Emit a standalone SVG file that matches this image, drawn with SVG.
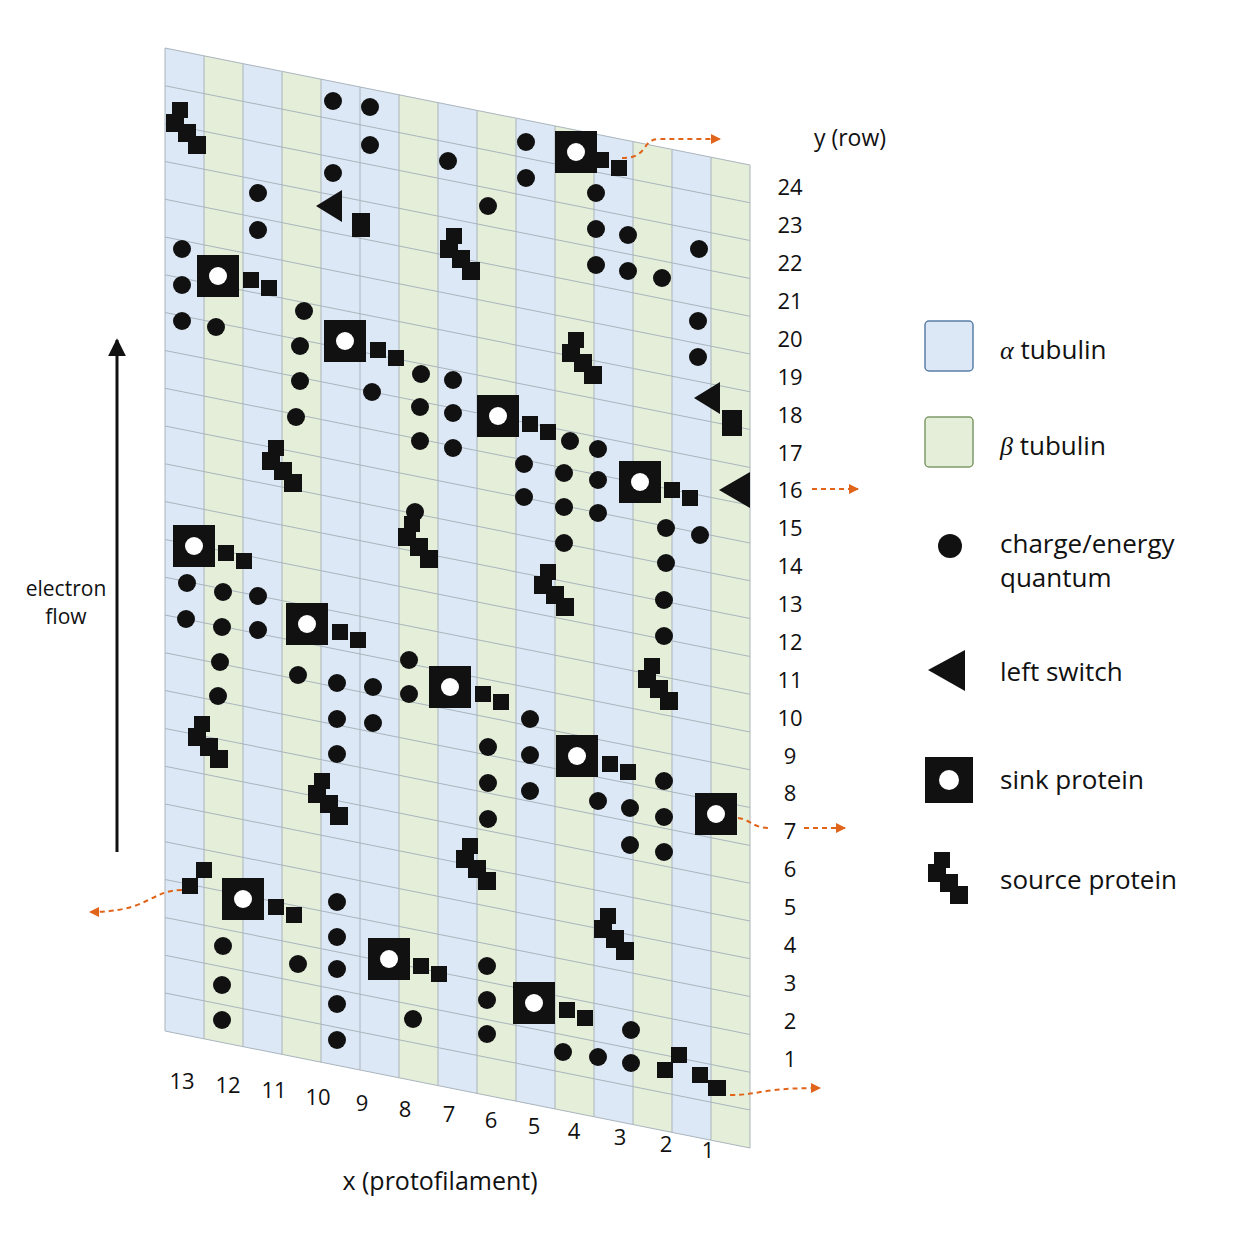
<svg xmlns="http://www.w3.org/2000/svg" xmlns:xlink="http://www.w3.org/1999/xlink" width="1254" height="1254" viewBox="0 0 1254 1254">
<style>
.t{font-family:"Open Sans","DejaVu Sans",sans-serif;fill:#111}
.n{font-size:22px;text-anchor:middle}
.lg{font-size:26px}
.a{fill:#dce8f6}.b{fill:#e4eed9}
.cell{fill:none;stroke:#a9b4bc;stroke-width:1}
.d{fill:#111}
.or{fill:none;stroke:#e0641a;stroke-width:2;stroke-dasharray:5 4}
</style>
<defs>
<marker id="oa" viewBox="0 0 10 10" refX="9" refY="5" markerWidth="5" markerHeight="5" orient="auto"><path d="M0,0L10,5L0,10z" fill="#e0641a"/></marker>
<marker id="ka" viewBox="0 0 10 10" refX="9" refY="5" markerWidth="6" markerHeight="6" orient="auto"><path d="M0,0L10,5L0,10z" fill="#111"/></marker>
<g id="sink"><rect x="-21" y="-21" width="42" height="42" fill="#111"/><circle r="9" fill="#fff"/></g>
<g id="tail"><rect x="0" y="-8" width="16" height="16" fill="#111"/><rect x="18" y="0" width="16" height="16" fill="#111"/></g>
<g id="src" fill="#111"><rect x="6" y="0" width="16" height="16"/><rect x="0" y="12" width="18" height="18"/><rect x="12" y="22" width="18" height="18"/><rect x="22" y="34" width="18" height="18"/></g>
<circle id="dot" r="9" fill="#111"/>
</defs>
<rect width="1254" height="1254" fill="#fff"/>
<g id="grid" transform="matrix(1 0.2 0 1 0 -66)">
<rect x="165" y="81" width="39" height="983" class="a"/><rect x="204" y="81" width="39" height="983" class="b"/>
<rect x="243" y="81" width="39" height="983" class="a"/><rect x="282" y="81" width="39" height="983" class="b"/>
<rect x="321" y="81" width="39" height="983" class="a"/><rect x="360" y="81" width="39" height="983" class="a"/>
<rect x="399" y="81" width="39" height="983" class="b"/><rect x="438" y="81" width="39" height="983" class="a"/>
<rect x="477" y="81" width="39" height="983" class="b"/><rect x="516" y="81" width="39" height="983" class="a"/>
<rect x="555" y="81" width="39" height="983" class="b"/><rect x="594" y="81" width="39" height="983" class="a"/>
<rect x="633" y="81" width="39" height="983" class="b"/><rect x="672" y="81" width="39" height="983" class="a"/>
<rect x="711" y="81" width="39" height="983" class="b"/>
<path class="cell" d="M165,81V1064M204,81V1064M243,81V1064M282,81V1064M321,81V1064M360,81V1064M399,81V1064M438,81V1064M477,81V1064M516,81V1064M555,81V1064M594,81V1064M633,81V1064M672,81V1064M711,81V1064M750,81V1064
M165,81H750M165,118.8H750M165,156.6H750M165,194.4H750M165,232.2H750M165,270H750M165,307.8H750M165,345.6H750M165,383.4H750M165,421.2H750M165,459H750M165,496.8H750M165,534.6H750M165,572.4H750M165,610.2H750M165,648H750M165,685.8H750M165,723.6H750M165,761.4H750M165,799.2H750M165,837H750M165,874.8H750M165,912.6H750M165,950.4H750M165,988.2H750M165,1026H750M165,1064H750"/>
</g>
<g id="dots">
<use href="#dot" x="333" y="101"/><use href="#dot" x="370" y="107"/><use href="#dot" x="370" y="145"/><use href="#dot" x="333" y="173"/><use href="#dot" x="448" y="161"/><use href="#dot" x="526" y="142"/><use href="#dot" x="526" y="178"/><use href="#dot" x="488" y="206"/><use href="#dot" x="258" y="193"/><use href="#dot" x="258" y="230"/><use href="#dot" x="182" y="249"/><use href="#dot" x="182" y="285"/><use href="#dot" x="182" y="321"/><use href="#dot" x="216" y="327"/><use href="#dot" x="304" y="311"/><use href="#dot" x="300" y="346"/><use href="#dot" x="300" y="381"/><use href="#dot" x="296" y="417"/><use href="#dot" x="372" y="392"/><use href="#dot" x="421" y="374"/><use href="#dot" x="453" y="380"/><use href="#dot" x="420" y="407"/><use href="#dot" x="453" y="413"/><use href="#dot" x="420" y="441"/><use href="#dot" x="453" y="448"/><use href="#dot" x="596" y="193"/><use href="#dot" x="596" y="229"/><use href="#dot" x="628" y="235"/><use href="#dot" x="596" y="265"/><use href="#dot" x="628" y="271"/><use href="#dot" x="662" y="278"/><use href="#dot" x="699" y="249"/><use href="#dot" x="698" y="321"/><use href="#dot" x="698" y="357"/><use href="#dot" x="570" y="441"/><use href="#dot" x="598" y="449"/><use href="#dot" x="524" y="464"/><use href="#dot" x="564" y="473"/><use href="#dot" x="598" y="480"/><use href="#dot" x="524" y="497"/><use href="#dot" x="564" y="507"/><use href="#dot" x="598" y="513"/><use href="#dot" x="415" y="512"/><use href="#dot" x="564" y="543"/><use href="#dot" x="666" y="528"/><use href="#dot" x="700" y="535"/><use href="#dot" x="666" y="563"/><use href="#dot" x="664" y="600"/><use href="#dot" x="664" y="636"/><use href="#dot" x="187" y="583"/><use href="#dot" x="223" y="592"/><use href="#dot" x="258" y="596"/><use href="#dot" x="186" y="619"/><use href="#dot" x="222" y="627"/><use href="#dot" x="258" y="630"/><use href="#dot" x="220" y="662"/><use href="#dot" x="218" y="696"/><use href="#dot" x="298" y="675"/><use href="#dot" x="337" y="683"/><use href="#dot" x="373" y="687"/><use href="#dot" x="409" y="660"/><use href="#dot" x="409" y="694"/><use href="#dot" x="337" y="719"/><use href="#dot" x="373" y="723"/><use href="#dot" x="337" y="754"/><use href="#dot" x="530" y="719"/><use href="#dot" x="488" y="747"/><use href="#dot" x="530" y="755"/><use href="#dot" x="488" y="783"/><use href="#dot" x="530" y="791"/><use href="#dot" x="488" y="819"/><use href="#dot" x="598" y="801"/><use href="#dot" x="630" y="808"/><use href="#dot" x="664" y="781"/><use href="#dot" x="664" y="817"/><use href="#dot" x="630" y="845"/><use href="#dot" x="664" y="852"/><use href="#dot" x="337" y="902"/><use href="#dot" x="223" y="946"/><use href="#dot" x="298" y="964"/><use href="#dot" x="337" y="937"/><use href="#dot" x="337" y="969"/><use href="#dot" x="222" y="985"/><use href="#dot" x="337" y="1004"/><use href="#dot" x="222" y="1020"/><use href="#dot" x="337" y="1040"/><use href="#dot" x="413" y="1019"/><use href="#dot" x="487" y="966"/><use href="#dot" x="487" y="1000"/><use href="#dot" x="487" y="1034"/><use href="#dot" x="563" y="1052"/><use href="#dot" x="598" y="1057"/><use href="#dot" x="631" y="1030"/><use href="#dot" x="631" y="1063"/>
</g>
<g id="sinks">
<use href="#sink" x="576" y="152"/><use href="#tail" x="593" y="160"/>
<use href="#sink" x="218" y="276"/><use href="#tail" x="243" y="280"/>
<use href="#sink" x="345" y="341"/><use href="#tail" x="370" y="350"/>
<use href="#sink" x="498" y="416"/><use href="#tail" x="522" y="424"/>
<use href="#sink" x="640" y="482"/><use href="#tail" x="664" y="490"/>
<use href="#sink" x="194" y="546"/><use href="#tail" x="218" y="553"/>
<use href="#sink" x="307" y="624"/><use href="#tail" x="332" y="632"/>
<use href="#sink" x="450" y="687"/><use href="#tail" x="475" y="694"/>
<use href="#sink" x="577" y="756"/><use href="#tail" x="602" y="764"/>
<use href="#sink" x="716" y="814"/>
<use href="#sink" x="243" y="899"/><use href="#tail" x="268" y="907"/>
<use href="#sink" x="389" y="959"/><use href="#tail" x="413" y="966"/>
<use href="#sink" x="534" y="1003"/><use href="#tail" x="559" y="1010"/>
</g>
<g id="sources">
<use href="#src" x="166" y="102"/><use href="#src" x="440" y="228"/><use href="#src" x="562" y="332"/><use href="#src" x="262" y="440"/><use href="#src" x="398" y="516"/><use href="#src" x="534" y="564"/><use href="#src" x="638" y="658"/><use href="#src" x="188" y="716"/><use href="#src" x="308" y="773"/><use href="#src" x="456" y="838"/><use href="#src" x="594" y="908"/>
<rect x="182" y="878" width="16" height="16" fill="#111"/><rect x="196" y="862" width="16" height="16" fill="#111"/>
<rect x="657" y="1062" width="16" height="16" fill="#111"/><rect x="671" y="1047" width="16" height="16" fill="#111"/>
<rect x="692" y="1067" width="16" height="16" fill="#111"/><rect x="708" y="1080" width="18" height="16" fill="#111"/>
</g>
<g id="switches" fill="#111">
<path d="M316,206L342,190V222z"/><rect x="352" y="213" width="18" height="24"/>
<path d="M694,398L720,382V414z"/><rect x="722" y="410" width="20" height="26"/>
<path d="M719,490L750,472V508z"/>
</g>
<g id="connectors">
<path class="or" marker-end="url(#oa)" d="M622,158C650,158 640,139 660,139H720"/>
<path class="or" marker-end="url(#oa)" d="M812,489H858"/>
<path class="or" d="M738,818C752,820 752,828 770,828"/>
<path class="or" marker-end="url(#oa)" d="M804,828H845"/>
<path class="or" marker-end="url(#oa)" d="M730,1095C760,1095 760,1088 820,1088"/>
<path class="or" marker-end="url(#oa)" d="M182,890C150,890 150,912 90,912"/>
<path d="M117,852V340" stroke="#111" stroke-width="3" marker-end="url(#ka)"/>
</g>
<g id="labels">
<text class="t" x="850" y="146" font-size="23" text-anchor="middle">y (row)</text>
<g class="t n">
<text x="790" y="195">24</text><text x="790" y="233">23</text><text x="790" y="271">22</text><text x="790" y="309">21</text><text x="790" y="347">20</text><text x="790" y="385">19</text><text x="790" y="423">18</text><text x="790" y="461">17</text><text x="790" y="498">16</text><text x="790" y="536">15</text><text x="790" y="574">14</text><text x="790" y="612">13</text><text x="790" y="650">12</text><text x="790" y="688">11</text><text x="790" y="726">10</text><text x="790" y="764">9</text><text x="790" y="801">8</text><text x="790" y="839">7</text><text x="790" y="877">6</text><text x="790" y="915">5</text><text x="790" y="953">4</text><text x="790" y="991">3</text><text x="790" y="1029">2</text><text x="790" y="1067">1</text>
<text x="182" y="1089">13</text><text x="228" y="1093">12</text><text x="274" y="1098">11</text><text x="318" y="1105">10</text><text x="362" y="1111">9</text><text x="405" y="1117">8</text><text x="449" y="1122">7</text><text x="491" y="1128">6</text><text x="534" y="1134">5</text><text x="574" y="1139">4</text><text x="620" y="1145">3</text><text x="666" y="1152">2</text><text x="708" y="1158">1</text>
</g>
<text class="t" x="440" y="1190" font-size="25" text-anchor="middle">x (protofilament)</text>
<text class="t" x="66" y="596" font-size="21" text-anchor="middle">electron</text>
<text class="t" x="66" y="624" font-size="21" text-anchor="middle">flow</text>
</g>
<g id="legend">
<rect x="925" y="321" width="48" height="50" rx="4" fill="#dce8f6" stroke="#5a7fa8" stroke-width="1.5"/>
<text class="t lg" x="1000" y="359"><tspan font-family="Liberation Serif,serif" font-style="italic">α</tspan> tubulin</text>
<rect x="925" y="417" width="48" height="50" rx="4" fill="#e4eed9" stroke="#7d9a6a" stroke-width="1.5"/>
<text class="t lg" x="1000" y="455"><tspan font-family="Liberation Serif,serif" font-style="italic">β</tspan> tubulin</text>
<circle cx="950" cy="546" r="12" fill="#111"/>
<text class="t lg" x="1000" y="553">charge/energy</text>
<text class="t lg" x="1000" y="587">quantum</text>
<path d="M928,670L965,650V691z" fill="#111"/>
<text class="t lg" x="1000" y="681">left switch</text>
<rect x="925" y="757" width="48" height="46" fill="#111"/><circle cx="949" cy="780" r="10" fill="#fff"/>
<text class="t lg" x="1000" y="789">sink protein</text>
<use href="#src" x="928" y="852"/>
<text class="t lg" x="1000" y="889">source protein</text>
</g>
</svg>
